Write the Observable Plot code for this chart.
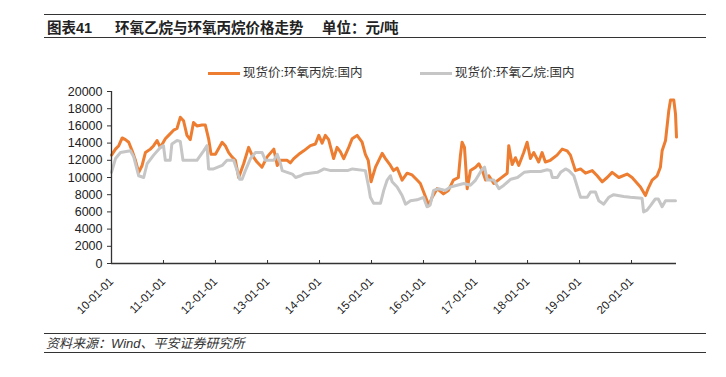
<!DOCTYPE html>
<html><head><meta charset="utf-8">
<script src="https://cdn.jsdelivr.net/npm/d3@7"></script>
<script src="https://cdn.jsdelivr.net/npm/@observablehq/plot@0.6"></script>
<style>
html,body{margin:0;padding:0;background:#fff;}
#wrap{position:relative;width:726px;height:377px;overflow:hidden;font-family:"Liberation Sans","Noto Sans CJK SC",sans-serif;color:#222;}
.hr{position:absolute;left:44px;width:662px;height:0;border-top:1.5px solid #333;}
.t{position:absolute;white-space:nowrap;line-height:1;}
#chart{position:absolute;left:0;top:80px;}
</style></head>
<body><div id="wrap">
<div class="hr" style="top:14px"></div>
<div class="t" id="t1" style="left:47px;top:21px;font-size:14.5px;font-weight:bold;"></div>
<div class="t" id="t2" style="left:115px;top:21px;font-size:14.5px;font-weight:bold;"></div>
<div class="t" id="t3" style="left:322px;top:21px;font-size:14.5px;font-weight:bold;"></div>
<div class="hr" style="top:37px"></div>
<div id="legend"></div>
<div id="chart"></div>
<div class="hr" style="top:333px"></div>
<div class="t" id="src" style="left:46px;top:337px;font-size:13px;font-style:italic;color:#333;"></div>
<div class="hr" style="top:352px"></div>
</div>
<script>
const titleNo = "图表41";
const titleText = "环氧乙烷与环氧丙烷价格走势";
const unitText = "单位：元/吨";
const sourceText = "资料来源：Wind、平安证券研究所";
const seriesNames = ["现货价:环氧丙烷:国内", "现货价:环氧乙烷:国内"];
const seriesColors = ["#ED7D31", "#C6C6C6"];

// 环氧丙烷 (propylene oxide), yuan/ton
const propDates = [
  "2010-01-01","2010-01-29","2010-02-21","2010-03-17","2010-04-09","2010-05-02","2010-05-26","2010-06-18","2010-07-11","2010-08-04","2010-08-27","2010-10-01","2010-10-24","2010-11-17","2010-12-10",
  "2011-01-14","2011-02-06","2011-03-13","2011-04-06","2011-04-29","2011-05-22","2011-06-15","2011-07-08","2011-07-31","2011-08-24","2011-09-28","2011-10-22","2011-11-14","2011-12-01",
  "2012-01-01","2012-02-17","2012-03-10","2012-04-03","2012-04-26","2012-05-20","2012-06-12","2012-07-17","2012-08-21","2012-09-14","2012-10-19","2012-11-23","2012-12-29",
  "2013-02-14","2013-03-10","2013-04-02","2013-05-19","2013-06-10","2013-07-04","2013-08-08","2013-09-12","2013-10-29","2013-12-03","2013-12-27",
  "2014-01-19","2014-02-11","2014-03-06","2014-04-10","2014-05-04","2014-05-27","2014-06-20","2014-07-25","2014-08-18","2014-09-22","2014-10-27","2014-11-19","2014-12-09","2014-12-29",
  "2015-01-29","2015-03-17","2015-04-09","2015-05-14","2015-06-04","2015-06-30","2015-08-04","2015-09-08","2015-10-13","2015-11-17","2015-12-10",
  "2016-01-26","2016-02-07","2016-03-02","2016-04-06","2016-05-20","2016-06-24","2016-07-29","2016-09-02","2016-09-16","2016-09-28","2016-10-15","2016-11-03","2016-11-26",
  "2017-01-01","2017-01-24","2017-02-17","2017-03-12","2017-04-04","2017-05-09","2017-06-25","2017-08-11","2017-08-22","2017-09-15","2017-10-08","2017-10-31","2017-12-05","2017-12-29",
  "2018-01-21","2018-02-14","2018-03-20","2018-04-13","2018-05-06","2018-06-10","2018-07-27","2018-09-01","2018-10-06","2018-10-29","2018-12-03",
  "2019-01-08","2019-02-12","2019-03-31","2019-05-05","2019-06-09","2019-07-14","2019-08-18","2019-10-04","2019-12-01",
  "2020-01-05","2020-03-04","2020-04-08","2020-04-29","2020-05-25","2020-06-29","2020-07-22","2020-08-03","2020-08-27","2020-09-19","2020-10-01","2020-10-24","2020-11-05","2020-11-12"
];
const propValues = [
  12600,13300,13700,14600,14400,14100,13100,12000,10600,11400,12900,13300,13700,14300,13500,
  14500,14900,15500,15700,17000,16600,14900,14400,16400,16000,16100,16100,14500,12700,
  12700,14100,13700,12900,12400,12000,10000,11600,13500,12600,11800,11200,12400,
  13300,11400,12000,12000,11700,12200,12700,13100,13700,13900,14900,
  14000,14900,14400,12200,13500,13000,12200,13500,14500,14900,14100,12700,12000,9500,
  11200,12800,12200,11400,10800,11100,9700,10500,10300,9700,9300,
  7300,6700,7700,8700,8100,8500,9700,10000,12500,14100,13500,8700,10800,
  11200,11600,10800,9700,10200,9300,9900,10500,13700,11500,12300,11400,12900,14100,
  12200,12900,11800,12900,11800,12000,12600,13300,13100,12600,10800,
  11000,10500,10800,10200,9500,10000,10600,10000,10400,
  10000,8900,7900,8800,9700,10200,11200,13100,14300,17800,19000,19000,17400,14700
];

// 环氧乙烷 (ethylene oxide), yuan/ton
const eoDates = [
  "2010-01-01","2010-01-29","2010-03-05","2010-05-14","2010-06-06","2010-07-11","2010-08-15","2010-09-08","2010-10-24","2010-12-10",
  "2011-01-01","2011-01-14","2011-02-17","2011-03-01","2011-04-06","2011-04-29","2011-05-18","2011-08-24","2011-10-10","2011-11-03","2011-11-14","2011-12-19",
  "2012-02-17","2012-03-22","2012-05-08","2012-06-01","2012-06-19","2012-07-06","2012-07-29","2012-09-03","2012-10-08","2012-11-24","2012-12-17",
  "2013-02-14","2013-03-10","2013-04-02","2013-04-14","2013-05-19","2013-06-24","2013-07-17","2013-08-21","2013-09-14","2013-12-17",
  "2014-02-02","2014-03-21","2014-07-16","2014-08-20","2014-11-19","2014-12-12","2014-12-24",
  "2015-01-16","2015-03-05","2015-03-28","2015-04-21","2015-05-14","2015-05-26","2015-06-30","2015-08-04","2015-08-28","2015-10-02","2015-11-17",
  "2016-01-01","2016-01-26","2016-02-17","2016-03-12","2016-04-16","2016-06-02","2016-07-08","2016-08-24","2016-10-10","2016-11-26",
  "2017-01-01","2017-02-17","2017-03-05","2017-03-24","2017-05-09","2017-06-14","2017-07-19","2017-09-05","2017-10-22","2017-12-08",
  "2018-01-21","2018-04-02","2018-05-19","2018-06-12","2018-06-24","2018-07-29","2018-08-21","2018-09-25","2018-10-18","2018-11-22",
  "2019-01-08","2019-02-24","2019-03-19","2019-04-23","2019-05-16","2019-06-20","2019-07-25","2019-08-29","2019-11-07","2019-12-24",
  "2020-03-15","2020-03-26","2020-04-19","2020-05-12","2020-06-16","2020-07-07","2020-08-03","2020-08-27","2020-11-05"
];
const eoValues = [
  10600,12200,12900,13100,12400,10200,10000,11600,12600,13500,
  13700,12000,12000,13900,14300,14200,12000,12000,13100,13700,11000,11000,
  11400,12000,12000,10800,9800,9800,10800,12200,12900,12900,12000,
  12000,12700,11600,10800,10600,10400,10000,10200,10400,10600,
  11000,10800,10800,11000,10800,8900,7700,
  7000,7000,8500,9700,10200,9500,8900,7900,6900,7300,7400,
  7700,6600,6800,8500,8700,8500,8900,9100,9300,9100,
  9700,11000,11200,9700,9700,8700,9100,9800,10000,10600,
  10700,10700,10900,10800,10000,10000,10600,11000,10800,10200,
  7700,7700,8300,8300,7300,6900,7700,8000,7800,7700,
  7600,6000,6200,6700,7500,7500,6600,7300,7300
];

const xTickLabels = ["10-01-01","11-01-01","12-01-01","13-01-01","14-01-01","15-01-01","16-01-01","17-01-01","18-01-01","19-01-01","20-01-01"];
const yTickValues = [0,2000,4000,6000,8000,10000,12000,14000,16000,18000,20000];
const xDomain = ["2010-01-01","2020-11-12"];

document.getElementById("t1").textContent = titleNo;
document.getElementById("t2").textContent = titleText;
document.getElementById("t3").textContent = unitText;
document.getElementById("src").textContent = sourceText;

// legend
const legendPos = [208, 420];
const leg = document.getElementById("legend");
seriesNames.forEach((name, i) => {
  const sw = document.createElement("div");
  sw.style.cssText = `position:absolute;left:${legendPos[i]}px;top:71.5px;width:32px;height:3px;background:${seriesColors[i]};`;
  leg.appendChild(sw);
  const tx = document.createElement("div");
  tx.className = "t";
  tx.style.cssText = `left:${legendPos[i] + 35}px;top:67px;font-size:12.5px;color:#333;`;
  tx.textContent = name;
  leg.appendChild(tx);
});

const parse = d3.utcParse("%Y-%m-%d");
const parseTick = d3.utcParse("%y-%m-%d");
const fmtTick = d3.utcFormat("%y-%m-%d");
const prop = propDates.map((d, i) => ({date: parse(d), value: propValues[i]}));
const eo = eoDates.map((d, i) => ({date: parse(d), value: eoValues[i]}));
const xTicks = xTickLabels.map(parseTick);

const chart = Plot.plot({
  width: 726, height: 240,
  marginLeft: 111, marginRight: 50, marginTop: 11, marginBottom: 57,
  style: {fontFamily: '"Liberation Sans","Noto Sans CJK SC",sans-serif', color: "#222", background: "transparent", overflow: "visible"},
  x: {type: "utc", domain: xDomain.map(parse)},
  y: {domain: [0, 20000]},
  marks: [
    Plot.line(prop, {x: "date", y: "value", stroke: seriesColors[0], strokeWidth: 3, strokeLinejoin: "round"}),
    Plot.line(eo, {x: "date", y: "value", stroke: seriesColors[1], strokeWidth: 3, strokeLinejoin: "round"}),
    Plot.ruleY([0], {stroke: "#333", strokeWidth: 1.3}),
    Plot.ruleX([parse(xDomain[0])], {stroke: "#333", strokeWidth: 1.3}),
    Plot.axisY({ticks: yTickValues, tickSize: 4, tickPadding: 5, tickFormat: d => String(d), fontSize: 12.5, label: null, stroke: "#333"}),
    Plot.axisX({ticks: xTicks, tickSize: -3, tickPadding: 19, tickRotate: -45, tickFormat: fmtTick, fontSize: 11.5, label: null, stroke: "#333"})
  ]
});
document.getElementById("chart").appendChild(chart);
</script>
</body></html>
